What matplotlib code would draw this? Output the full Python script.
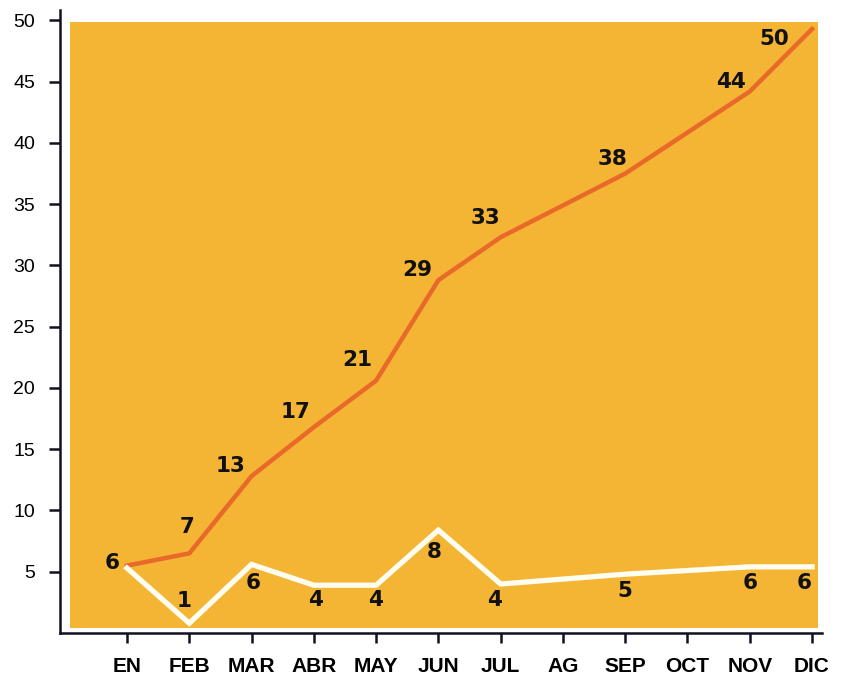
import matplotlib
matplotlib.use("Agg")
import matplotlib.pyplot as plt
from matplotlib.patches import Rectangle

months = ["EN", "FEB", "MAR", "ABR", "MAY", "JUN", "JUL", "AG", "SEP", "OCT", "NOV", "DIC"]

# cumulative series (orange) - months with data points (index into months)
acum_idx = [0, 1, 2, 3, 4, 5, 6, 8, 10, 11]
acum_vals = [5.5, 6.5, 12.8, 16.8, 20.6, 28.8, 32.3, 37.5, 44.2, 49.3]
acum_labels = ["6", "7", "13", "17", "21", "29", "33", "38", "44", "50"]

# monthly series (white)
mens_idx = [0, 1, 2, 3, 4, 5, 6, 8, 10, 11]
mens_vals = [5.3, 0.8, 5.6, 3.9, 3.9, 8.4, 4.0, 4.8, 5.4, 5.4]
mens_labels = ["", "1", "6", "4", "4", "8", "4", "5", "6", "6"]

yticks = [5, 10, 15, 20, 25, 30, 35, 40, 45, 50]

# label offsets in pixels (style)
acum_off = [(-15, 3), (-2, 26), (-21, 10), (-18, 15), (-19, 21), (-21, 10),
            (-15, 19), (-13, 15), (-19, 9), (-38, -10)]
mens_off = [(0, 0), (-5, 22), (2, -19), (2, -15), (-1, -15), (-4, -22),
            (-6, -16), (0, -17), (0, -16), (-8, -16)]

plt.rcParams['font.family'] = ['Liberation Sans', 'DejaVu Sans']

fig = plt.figure(figsize=(8.45, 6.76), dpi=100)
ax = fig.add_axes([60/845, 1-633/676, 762/845, 623/676])
ax.set_xlim(-1.076, 11.16)
ax.set_ylim(0, 50.85)

ax.add_patch(Rectangle((0.013, 0.008), 0.982, 0.973, transform=ax.transAxes,
                       facecolor="#F4B434", edgecolor="none", zorder=0))

ax.plot(acum_idx, acum_vals, color="#E8692A", lw=3.2, zorder=3, solid_joinstyle="round")
ax.plot(mens_idx, mens_vals, color="#FFFDF0", lw=3.8, zorder=3, solid_joinstyle="miter")

for i, v, t, o in zip(acum_idx, acum_vals, acum_labels, acum_off):
    if t:
        ax.annotate(t, (i, v), xytext=o, textcoords="offset pixels",
                    ha="center", va="center", fontsize=15.5, fontweight="bold",
                    family=["DejaVu Sans"], color="#111111", zorder=4)
for i, v, t, o in zip(mens_idx, mens_vals, mens_labels, mens_off):
    if t:
        ax.annotate(t, (i, v), xytext=o, textcoords="offset pixels",
                    ha="center", va="center", fontsize=15.5, fontweight="bold",
                    family=["DejaVu Sans"], color="#111111", zorder=4)

for s in ["top", "right"]:
    ax.spines[s].set_visible(False)
for s in ["left", "bottom"]:
    ax.spines[s].set_linewidth(1.8)
    ax.spines[s].set_color("#111122")

ax.set_yticks(yticks)
ax.set_yticklabels([str(y) for y in yticks], fontsize=14)
ax.set_xticks(range(len(months)))
ax.set_xticklabels(months, fontsize=15, fontweight="bold")
ax.tick_params(axis="y", length=8, width=1.8, pad=10, color="#111122")
ax.tick_params(axis="x", length=7, width=1.8, pad=10, color="#111122")

fig.savefig("out.png", dpi=100, facecolor="white")
